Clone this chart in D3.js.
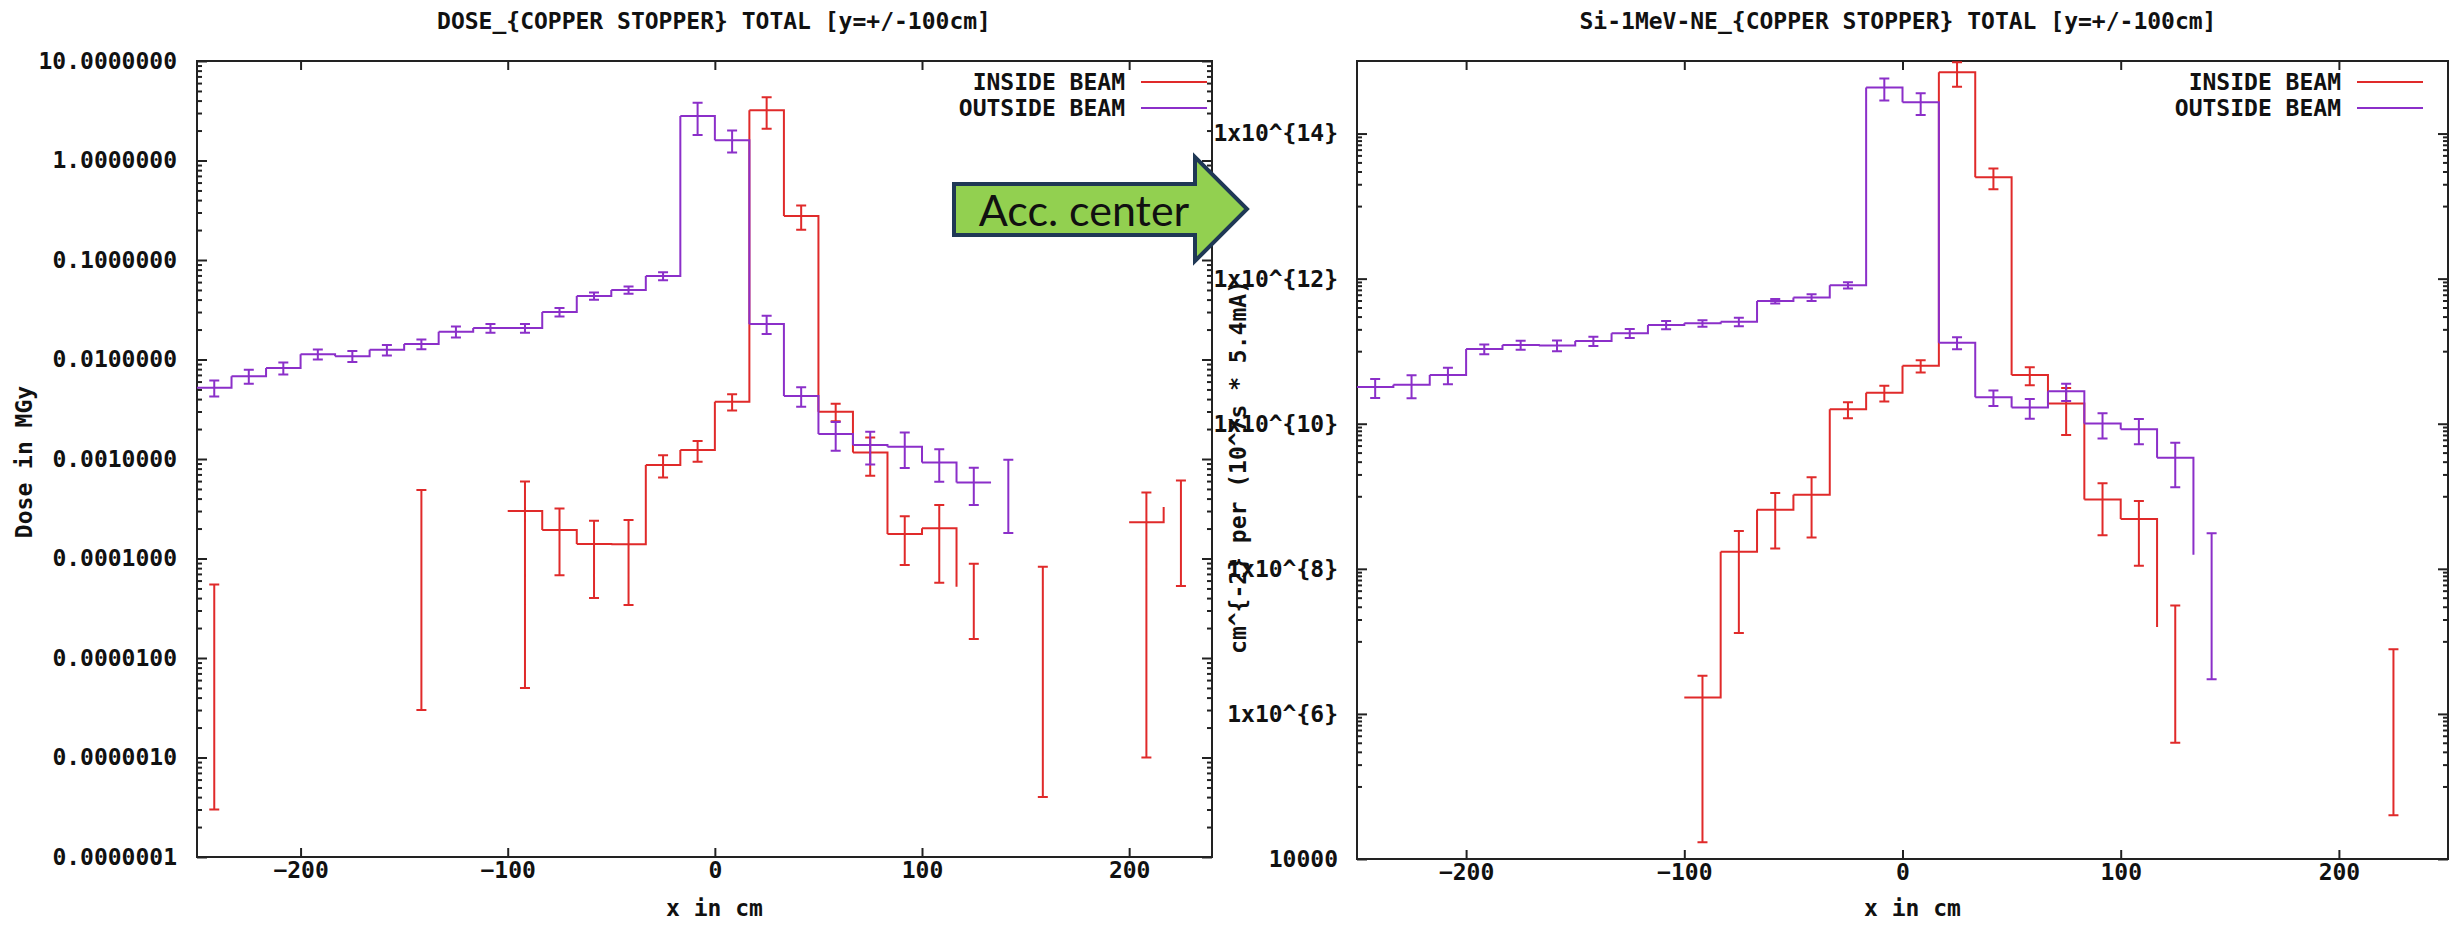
<!DOCTYPE html>
<html>
<head>
<meta charset="utf-8">
<script src="https://cdnjs.cloudflare.com/ajax/libs/d3/7.8.5/d3.min.js"></script>
<style>
  body { margin: 0; background: #fff; }
  svg text { font-family: "DejaVu Sans Mono", monospace; font-weight: bold; fill: #111; }
</style>
</head>
<body>
<div id="chart"></div>
<script>
"use strict";

// bin centres in cm (30 bins of 16.67 cm)
var binCenters = [-241.67, -225, -208.33, -191.67, -175, -158.33, -141.67, -125, -108.33, -91.67,
    -75, -58.33, -41.67, -25, -8.33, 8.33, 25, 41.67, 58.33, 75,
    91.67, 108.33, 125, 141.67, 158.33, 175, 191.67, 208.33, 225, 241.67];
var binWidth = 16.67;

// dose in MGy, null = empty bin
var doseInside = [2.76e-5, null, null, null, null, null, 2.46e-4, null, null, 3.0e-4,
    1.93e-4, 1.4e-4, 1.39e-4, 8.7e-4, 1.23e-3, 3.77e-3, 3.2, 0.277, 2.99e-3, 1.16e-3,
    1.76e-4, 2.01e-4, 5.2e-5, null, 4.16e-5, null, null, 2.31e-4, 3.3e-4, null];
var doseInsideErr = [2.73e-5, null, null, null, null, null, 2.43e-4, null, null, 2.95e-4,
    1.25e-4, 1.0e-4, 1.05e-4, 2.2e-4, 2.9e-4, 7e-4, 1.12, 0.076, 6e-4, 4.8e-4,
    9e-5, 1.44e-4, 3.65e-5, null, 4.12e-5, null, null, 2.3e-4, 2.77e-4, null];
var doseOutside = [5.2e-3, 6.8e-3, 8.2e-3, 1.13e-2, 1.08e-2, 1.25e-2, 1.43e-2, 1.9e-2, 2.07e-2, 2.07e-2,
    3.0e-2, 4.35e-2, 5.0e-2, 6.9e-2, 2.8, 1.6, 2.28e-2, 4.3e-3, 1.78e-3, 1.38e-3,
    1.33e-3, 9.2e-4, 5.8e-4, 5.8e-4, null, null, null, null, null, null];
var doseOutsideErr = [9.6e-4, 1.1e-3, 1.15e-3, 1.3e-3, 1.35e-3, 1.5e-3, 1.6e-3, 2.4e-3, 2.1e-3, 2.1e-3,
    2.9e-3, 3.6e-3, 4.3e-3, 6.4e-3, 1.0, 0.4, 4.8e-3, 9.5e-4, 5.7e-4, 5.0e-4,
    5.2e-4, 3.3e-4, 2.35e-4, 4.0e-4, null, null, null, null, null, null];

// Si 1 MeV neutron equivalent fluence
var fluenceInside = [null, null, null, null, null, null, null, null, null, 1.69e6,
    1.72e8, 6.5e8, 1.05e9, 1.58e10, 2.68e10, 6.3e10, 7.0e14, 2.5e13, 4.7e10, 1.9e10,
    9.0e8, 4.85e8, 1.58e7, null, null, null, null, null, 3.9e6, null];
var fluenceInsideErr = [null, null, null, null, null, null, null, null, null, 1.673e6,
    1.59e8, 4.6e8, 7.8e8, 3.9e9, 6.5e9, 1.2e10, 2.6e14, 7.9e12, 1.3e10, 1.2e10,
    6.1e8, 3.75e8, 1.54e7, null, null, null, null, null, 3.86e6, null];
var fluenceOutside = [3.2e10, 3.45e10, 4.7e10, 1.07e11, 1.22e11, 1.2e11, 1.38e11, 1.77e11, 2.3e11, 2.42e11,
    2.55e11, 4.9e11, 5.5e11, 8.1e11, 4.3e14, 2.7e14, 1.31e11, 2.31e10, 1.68e10, 2.8e10,
    1.01e10, 8.4e9, 3.4e9, 1.56e8, null, null, null, null, null, null];
var fluenceOutsideErr = [9.3e9, 1.2e10, 1.2e10, 1.65e10, 1.7e10, 2.0e10, 2.0e10, 2.45e10, 3.0e10, 2.5e10,
    3.4e10, 3.4e10, 6e10, 8e10, 1.45e14, 9e13, 2.45e10, 5.5e9, 5.1e9, 7.5e9,
    3.85e9, 3.2e9, 2.07e9, 1.53e8, null, null, null, null, null, null];

var xTicks = [-200, -100, 0, 100, 200];
var doseTicks = [10, 1, 0.1, 0.01, 0.001, 1e-4, 1e-5, 1e-6, 1e-7];
var doseTickLabels = ["10.0000000", "1.0000000", "0.1000000", "0.0100000", "0.0010000",
    "0.0001000", "0.0000100", "0.0000010", "0.0000001"];
var fluenceTicks = [1e14, 1e12, 1e10, 1e8, 1e6, 1e4];
var fluenceTickLabels = ["1x10^{14}", "1x10^{12}", "1x10^{10}", "1x10^{8}", "1x10^{6}", "10000"];

var seriesNames = ["INSIDE BEAM", "OUTSIDE BEAM"];
var seriesColors = ["#e02a2a", "#8b2fc9"];

// minor log ticks
var doseMinor = [];
for (var n = -7; n <= 0; n++) {
    for (var k = 2; k <= 9; k++) doseMinor.push(k * Math.pow(10, n));
}
var fluenceMinor = [];
[5, 7, 9, 11, 13].forEach(function (e) {
    for (var k = 1; k <= 9; k++) fluenceMinor.push(k * Math.pow(10, e));
});

var svg = d3.select("#chart").append("svg")
    .attr("width", 2463)
    .attr("height", 936);

function drawPanel(p) {
    var x = d3.scaleLinear().domain(p.xDomain).range([p.left, p.right]);
    var y = d3.scaleLog().domain(p.yDomain).range([p.bottom, p.top]);

    var g = svg.append("g");

    g.append("clipPath").attr("id", p.id + "-clip")
        .append("rect")
        .attr("x", p.left).attr("y", p.top)
        .attr("width", p.right - p.left).attr("height", p.bottom - p.top);

    // minor y ticks, both sides, pointing in
    g.append("g")
        .attr("transform", "translate(" + p.left + ",0)")
        .call(d3.axisLeft(y).tickValues(p.yMinor).tickSizeInner(-5).tickSizeOuter(0).tickFormat(""));
    g.append("g")
        .attr("transform", "translate(" + p.right + ",0)")
        .call(d3.axisRight(y).tickValues(p.yMinor).tickSizeInner(-5).tickSizeOuter(0).tickFormat(""));

    // major y ticks with labels
    g.append("g")
        .attr("transform", "translate(" + p.left + ",0)")
        .call(d3.axisLeft(y).tickValues(p.yTicks).tickSizeInner(-10).tickSizeOuter(0)
            .tickPadding(p.labelPad)
            .tickFormat(function (d, i) { return p.yTickLabels[i]; }));
    g.append("g")
        .attr("transform", "translate(" + p.right + ",0)")
        .call(d3.axisRight(y).tickValues(p.yTicks).tickSizeInner(-10).tickSizeOuter(0).tickFormat(""));

    // x ticks bottom (labels) and top (mirror)
    var xb = g.append("g")
        .attr("transform", "translate(0," + p.bottom + ")")
        .call(d3.axisBottom(x).tickValues(xTicks).tickSizeInner(-9).tickSizeOuter(0));
    xb.selectAll("text").attr("y", 13).attr("dy", "0.35em");
    g.append("g")
        .attr("transform", "translate(0," + p.top + ")")
        .call(d3.axisTop(x).tickValues(xTicks).tickSizeInner(-9).tickSizeOuter(0).tickFormat(""));

    g.selectAll(".domain").remove();
    g.selectAll(".tick line").attr("stroke", "#222").attr("stroke-width", 2);
    g.selectAll(".tick text")
        .attr("font-family", null)
        .attr("font-size", null)
        .style("font-size", "23px");

    // border
    g.append("rect")
        .attr("x", p.left).attr("y", p.top)
        .attr("width", p.right - p.left).attr("height", p.bottom - p.top)
        .attr("fill", "none")
        .attr("stroke", "#222")
        .attr("stroke-width", 2);

    var plot = g.append("g").attr("clip-path", "url(#" + p.id + "-clip)");

    // histogram steps: bin i gets drawn when bin i+1 also has a value
    function stepPath(vals) {
        var d = "";
        for (var i = 0; i < vals.length - 1; i++) {
            if (vals[i] == null || vals[i + 1] == null) continue;
            d += "M" + x(binCenters[i] - binWidth / 2) + "," + y(vals[i]) +
                "H" + x(binCenters[i] + binWidth / 2) +
                "V" + y(vals[i + 1]);
        }
        return d;
    }

    function errPath(vals, errs) {
        var d = "";
        for (var i = 0; i < vals.length; i++) {
            if (vals[i] == null) continue;
            var cx = x(binCenters[i]);
            var y0 = y(vals[i] - errs[i]), y1 = y(vals[i] + errs[i]);
            d += "M" + cx + "," + y0 + "V" + y1 +
                "M" + (cx - 5) + "," + y0 + "H" + (cx + 5) +
                "M" + (cx - 5) + "," + y1 + "H" + (cx + 5);
        }
        return d;
    }

    p.series.forEach(function (s, si) {
        plot.append("path")
            .attr("d", stepPath(s.vals))
            .attr("fill", "none")
            .attr("stroke", seriesColors[si])
            .attr("stroke-width", 2);
        plot.append("path")
            .attr("d", errPath(s.vals, s.errs))
            .attr("fill", "none")
            .attr("stroke", seriesColors[si])
            .attr("stroke-width", 2);
    });

    // legend
    seriesNames.forEach(function (name, i) {
        var ly = 82 + i * 26;
        g.append("text")
            .attr("x", p.legendX)
            .attr("y", ly)
            .attr("dy", "0.35em")
            .attr("text-anchor", "end")
            .style("font-size", "23px")
            .text(name);
        g.append("line")
            .attr("x1", p.legendX + 16).attr("x2", p.legendX + 82)
            .attr("y1", ly).attr("y2", ly)
            .attr("stroke", seriesColors[i])
            .attr("stroke-width", 2);
    });

    // title
    g.append("text")
        .attr("x", p.titleX)
        .attr("y", 21)
        .attr("dy", "0.35em")
        .attr("text-anchor", "middle")
        .style("font-size", "23px")
        .text(p.title);

    // x label
    g.append("text")
        .attr("x", (p.left + p.right) / 2 + 10)
        .attr("y", 908)
        .attr("dy", "0.35em")
        .attr("text-anchor", "middle")
        .style("font-size", "23px")
        .text("x in cm");

    // y label
    g.append("text")
        .attr("transform", "translate(" + p.yLabelX + "," + p.yLabelY + ") rotate(-90)")
        .attr("dy", "0.35em")
        .attr("text-anchor", "middle")
        .style("font-size", "23px")
        .text(p.yLabel);
}

drawPanel({
    id: "dose",
    left: 197, right: 1212, top: 61, bottom: 857,
    xDomain: [-250, 240], yDomain: [1e-7, 10],
    yTicks: doseTicks, yTickLabels: doseTickLabels, yMinor: doseMinor,
    labelPad: 20,
    series: [{ vals: doseInside, errs: doseInsideErr }, { vals: doseOutside, errs: doseOutsideErr }],
    legendX: 1125,
    title: "DOSE_{COPPER STOPPER} TOTAL [y=+/-100cm]",
    titleX: 714,
    yLabel: "Dose in MGy", yLabelX: 24, yLabelY: 462
});

drawPanel({
    id: "flu",
    left: 1357, right: 2448, top: 61, bottom: 859,
    xDomain: [-250, 250], yDomain: [1e4, 1e15],
    yTicks: fluenceTicks, yTickLabels: fluenceTickLabels, yMinor: fluenceMinor,
    labelPad: 19,
    series: [{ vals: fluenceInside, errs: fluenceInsideErr }, { vals: fluenceOutside, errs: fluenceOutsideErr }],
    legendX: 2341,
    title: "Si-1MeV-NE_{COPPER STOPPER} TOTAL [y=+/-100cm]",
    titleX: 1898,
    yLabel: "cm^{-2} per (10^7s * 5.4mA)", yLabelX: 1238, yLabelY: 467
});

// "Acc. center" arrow annotation
svg.append("polygon")
    .attr("points", "954,184 1195,184 1195,157 1247,209 1195,261 1195,235 954,235")
    .attr("fill", "#92d050")
    .attr("stroke", "#1f3855")
    .attr("stroke-width", 4)
    .attr("stroke-linejoin", "miter");
svg.append("text")
    .attr("x", 1084)
    .attr("y", 226)
    .attr("text-anchor", "middle")
    .style("font-family", "Lato, 'Open Sans', sans-serif")
    .style("font-weight", "normal")
    .style("font-size", "43px")
    .text("Acc. center");
</script>
</body>
</html>
